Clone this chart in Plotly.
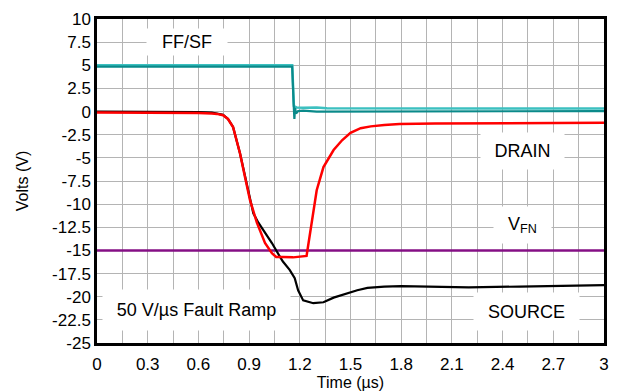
import plotly.graph_objects as go

# ---- data ----
drain_t = [0.0, 0.30, 0.60, 0.68, 0.71, 0.746, 0.775, 0.805, 0.846, 0.876, 0.905, 0.946, 0.994, 1.035, 1.06,
           1.10, 1.16, 1.24, 1.27, 1.30, 1.34, 1.40, 1.45, 1.50, 1.56, 1.62, 1.70, 1.79, 2.0, 2.38, 2.7, 3.0]
drain_v = [-0.1, -0.1, -0.15, -0.2, -0.25, -0.4, -0.8, -1.67, -4.5, -7.1, -9.55, -12.0, -14.2, -15.3, -15.7,
           -15.7, -15.75, -15.6, -12.0, -8.5, -6.0, -4.15, -3.1, -2.3, -1.8, -1.6, -1.45, -1.35, -1.3, -1.25, -1.25, -1.22]

source_t = [0.0, 0.30, 0.60, 0.68, 0.71, 0.746, 0.775, 0.805, 0.846, 0.876, 0.905, 0.925, 0.955, 0.985, 1.035, 1.083,
            1.10, 1.14, 1.17, 1.19, 1.22, 1.28, 1.34, 1.40, 1.47, 1.54, 1.60, 1.70, 1.80, 2.0, 2.2, 2.5, 2.8, 3.0]
source_v = [0.0, 0.0, -0.05, -0.1, -0.2, -0.35, -0.8, -1.67, -4.5, -7.1, -9.55, -11.0, -12.0, -12.8, -14.2, -15.7,
            -16.2, -17.1, -18.0, -19.3, -20.4, -20.7, -20.6, -20.1, -19.7, -19.3, -19.05, -18.9, -18.85, -18.9, -19.0, -18.9, -18.8, -18.75]

ff_t = [0.0, 1.155, 1.163, 1.168, 1.172, 1.178, 1.19, 1.22, 1.30, 3.0]
ff_v = [4.85, 4.85, 1.0, -0.8, 0.4, -0.2, 0.05, 0.1, 0.0, 0.05]

sf_t = [0.0, 1.155, 1.165, 1.18, 1.22, 1.30, 1.36, 3.0]
sf_v = [5.0, 5.0, 0.6, 0.45, 0.4, 0.45, 0.35, 0.32]

vfn_t = [0.0, 3.0]
vfn_v = [-15.0, -15.0]

x_tick_vals = [0, 0.3, 0.6, 0.9, 1.2, 1.5, 1.8, 2.1, 2.4, 2.7, 3.0]
x_tick_text = ["0", "0.3", "0.6", "0.9", "1.2", "1.5", "1.8", "2.1", "2.4", "2.7", "3"]
y_tick_vals = [10, 7.5, 5, 2.5, 0, -2.5, -5, -7.5, -10, -12.5, -15, -17.5, -20, -22.5, -25]
y_tick_text = ["10", "7.5", "5", "2.5", "0", "-2.5", "-5", "-7.5", "-10", "-12.5", "-15", "-17.5", "-20", "-22.5", "-25"]

FONT = "Liberation Sans, Arial, sans-serif"

fig = go.Figure()
fig.add_trace(go.Scatter(x=vfn_t, y=vfn_v, mode="lines", line=dict(color="#850f85", width=2.5), showlegend=False))
fig.add_trace(go.Scatter(x=source_t, y=source_v, mode="lines", line=dict(color="#000000", width=2.2), showlegend=False))
fig.add_trace(go.Scatter(x=drain_t, y=drain_v, mode="lines", line=dict(color="#ff0000", width=2.5), showlegend=False))
fig.add_trace(go.Scatter(x=sf_t, y=sf_v, mode="lines", line=dict(color="#3cc0c0", width=2.5), showlegend=False))
fig.add_trace(go.Scatter(x=ff_t, y=ff_v, mode="lines", line=dict(color="#0a8a8a", width=2.2), showlegend=False))

ann_style = dict(showarrow=False, bgcolor="white", borderpad=0, font=dict(family=FONT, size=18, color="black"))
fig.add_annotation(x=0.53, y=7.5, text="FF/SF", width=80, height=26, **ann_style)
fig.add_annotation(x=2.515, y=-4.3, text="DRAIN", width=83, height=36, **ann_style)
fig.add_annotation(x=2.52, y=-12.3, text="V<sub>FN</sub>", width=57, height=36, **ann_style)
fig.add_annotation(x=2.54, y=-21.65, text="SOURCE", width=105, height=37, **ann_style)
fig.add_annotation(x=0.59, y=-21.4, text="50 V/µs Fault Ramp", width=187, height=40, **ann_style)

axis_common = dict(showline=True, linecolor="black", linewidth=2.5, mirror=True,
                   gridcolor="#b4b4b4", gridwidth=1, zeroline=False, ticks="",
                   tickfont=dict(family=FONT, size=17, color="black"))

fig.update_xaxes(range=[0, 3], tickmode="array", tickvals=x_tick_vals, ticktext=x_tick_text,
                 minor=dict(tickmode="linear", tick0=0, dtick=0.15, showgrid=True, gridcolor="#b4b4b4", gridwidth=1),
                 ticklabelstandoff=4,
                 title=dict(text="Time (µs)", font=dict(family=FONT, size=16, color="black"), standoff=4),
                 **axis_common)
fig.update_yaxes(range=[-25, 10], tickmode="array", tickvals=y_tick_vals, ticktext=y_tick_text,
                 title=dict(text="Volts (V)", font=dict(family=FONT, size=16, color="black"), standoff=20),
                 **axis_common)

# page body has an 8px margin: figure sized/positioned so the plot lands at x 97..604, y 19..343
fig.update_layout(width=610, height=383, margin=dict(l=89, r=14, t=11, b=48, autoexpand=False),
                  plot_bgcolor="white", paper_bgcolor="white", font=dict(family=FONT))

fig.write_html("out.html")
